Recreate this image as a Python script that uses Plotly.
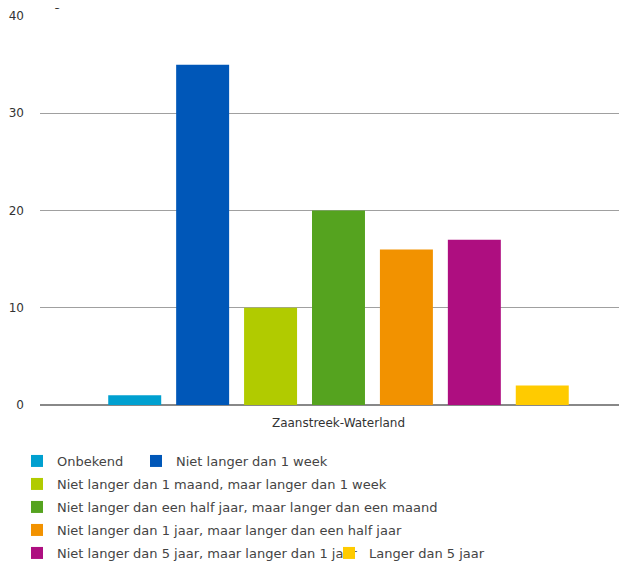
import plotly.graph_objects as go

region = ["Zaanstreek-Waterland"]
categories = [
    "Onbekend",
    "Niet langer dan 1 week",
    "Niet langer dan 1 maand, maar langer dan 1 week",
    "Niet langer dan een half jaar, maar langer dan een maand",
    "Niet langer dan 1 jaar, maar langer dan een half jaar",
    "Niet langer dan 5 jaar, maar langer dan 1 jaar",
    "Langer dan 5 jaar",
]
values = [1, 35, 10, 20, 16, 17, 2]
colors = ["#00A0D0", "#0057B8", "#B1CB00", "#55A31F", "#F29200", "#AE0E80", "#FFCB00"]
y_ticks = [0, 10, 20, 30, 40]
y_title = "Meldingen"

W, H = 627, 562
ml, mr, mt, mb = 32, 8, 8, 165
pw, ph = W - ml - mr, H - mt - mb

# legend entry placement (left px, row centre px) in figure pixels
legend_pos = [(9, 453), (128, 453), (9, 476), (9, 499), (9, 522), (9, 545), (321, 545)]

fig = go.Figure()
legend_layout = {}
for i, (name, v, c) in enumerate(zip(categories, values, colors)):
    key = "legend" if i == 0 else f"legend{i + 1}"
    fig.add_trace(go.Bar(x=region, y=[v], name=name, legend=key,
                         marker=dict(color=c, line=dict(width=0))))
    lx, ly = legend_pos[i]
    legend_layout[key] = dict(
        orientation="h", x=(lx - ml) / pw, xanchor="left",
        y=-(ly - (mt + ph)) / ph, yanchor="middle",
        font=dict(size=13, color="#444444"), itemwidth=30,
        bgcolor="rgba(0,0,0,0)", borderwidth=0,
    )

fig.update_layout(
    width=W, height=H,
    margin=dict(l=ml, r=mr, t=mt, b=mb, autoexpand=False),
    paper_bgcolor="white", plot_bgcolor="white",
    font=dict(family="DejaVu Sans", size=12, color="#333333"),
    barmode="group", bargap=0.19, bargroupgap=0.22,
    showlegend=True,
    xaxis=dict(
        range=[-0.5085, 0.4915], showgrid=False, showline=False, zeroline=False,
        ticks="", ticklabelstandoff=9, automargin=False,
        tickfont=dict(size=12, color="#333333"),
    ),
    yaxis=dict(
        range=[0, 40], tickvals=y_ticks, showgrid=True, gridcolor="#A0A0A0", gridwidth=1,
        zeroline=True, zerolinecolor="#888888", zerolinewidth=2, showline=False,
        ticks="", ticklabelstandoff=15, automargin=False,
        tickfont=dict(size=12, color="#333333"),
    ),
    annotations=[dict(
        text=y_title, xref="paper", yref="paper", x=-28 / pw, y=1 + 5 / ph,
        xanchor="left", yanchor="bottom", showarrow=False,
        font=dict(size=12, color="#333333"),
    )],
    **legend_layout,
)

fig.write_html("out.html")
